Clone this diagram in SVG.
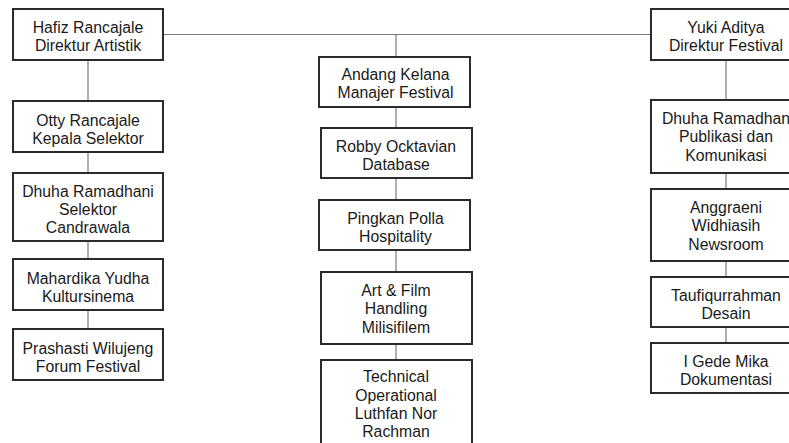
<svg xmlns="http://www.w3.org/2000/svg" width="789" height="443" viewBox="0 0 789 443">
<style>
.box{fill:#fff;stroke:#2b2b2b;stroke-width:2}
.ln{stroke:#7a7a7a;stroke-width:1.2;fill:none}
text{font-family:"Liberation Sans",Arial,sans-serif;font-size:15.8px;fill:#1a1a1a;text-anchor:middle}
</style>
<rect width="789" height="443" fill="#fff"/>
<g id="connectors">
<line class="ln" x1="163" y1="34.5" x2="651" y2="34.5"/>
<line class="ln" x1="88" y1="60" x2="88" y2="329"/>
<line class="ln" x1="396" y1="34.5" x2="396" y2="360"/>
<line class="ln" x1="726" y1="60" x2="726" y2="343"/>
</g>
<g id="hafiz"><rect class="box" x="13" y="9" width="150" height="51"/><text x="88" y="33">Hafiz Rancajale</text><text x="88" y="51">Direktur Artistik</text></g>
<g id="otty"><rect class="box" x="13" y="101" width="150" height="51"/><text x="88" y="125.5">Otty Rancajale</text><text x="88" y="143.5">Kepala Selektor</text></g>
<g id="dhuha-l"><rect class="box" x="13" y="173" width="150" height="68"/><text x="88" y="197">Dhuha Ramadhani</text><text x="88" y="215">Selektor</text><text x="88" y="233">Candrawala</text></g>
<g id="mahardika"><rect class="box" x="13" y="259" width="150" height="51"/><text x="88" y="283.5">Mahardika Yudha</text><text x="88" y="301.5">Kultursinema</text></g>
<g id="prashasti"><rect class="box" x="13" y="329" width="150" height="51"/><text x="88" y="353.5">Prashasti Wilujeng</text><text x="88" y="371.5">Forum Festival</text></g>
<g id="andang"><rect class="box" x="319" y="57" width="151" height="50"/><text x="395.5" y="80">Andang Kelana</text><text x="395.5" y="98">Manajer Festival</text></g>
<g id="robby"><rect class="box" x="321" y="128" width="151" height="50"/><text x="396" y="151.5">Robby Ocktavian</text><text x="396" y="169.5">Database</text></g>
<g id="pingkan"><rect class="box" x="319" y="200" width="151" height="50"/><text x="395.5" y="223.5">Pingkan Polla</text><text x="395.5" y="241.5">Hospitality</text></g>
<g id="artfilm"><rect class="box" x="321" y="272" width="151" height="72"/><text x="396" y="296">Art &amp; Film</text><text x="396" y="314.3">Handling</text><text x="396" y="332.6">Milisifilem</text></g>
<g id="technical"><rect class="box" x="321" y="360" width="151" height="90"/><text x="396" y="382">Technical</text><text x="396" y="400.5">Operational</text><text x="396" y="419">Luthfan Nor</text><text x="396" y="437">Rachman</text></g>
<g id="yuki"><rect class="box" x="651" y="9" width="150" height="51"/><text x="726" y="33">Yuki Aditya</text><text x="726" y="51">Direktur Festival</text></g>
<g id="dhuha-r"><rect class="box" x="651" y="100" width="150" height="73"/><text x="726" y="123.5">Dhuha Ramadhan</text><text x="726" y="142">Publikasi dan</text><text x="726" y="160.5">Komunikasi</text></g>
<g id="anggraeni"><rect class="box" x="651" y="189" width="150" height="72"/><text x="726" y="212.5">Anggraeni</text><text x="726" y="231">Widhiasih</text><text x="726" y="249.5">Newsroom</text></g>
<g id="taufiq"><rect class="box" x="651" y="277" width="150" height="50"/><text x="726" y="300.5">Taufiqurrahman</text><text x="726" y="318.5">Desain</text></g>
<g id="igede"><rect class="box" x="651" y="343" width="150" height="50"/><text x="726" y="366.5">I Gede Mika</text><text x="726" y="384.5">Dokumentasi</text></g>
</svg>
